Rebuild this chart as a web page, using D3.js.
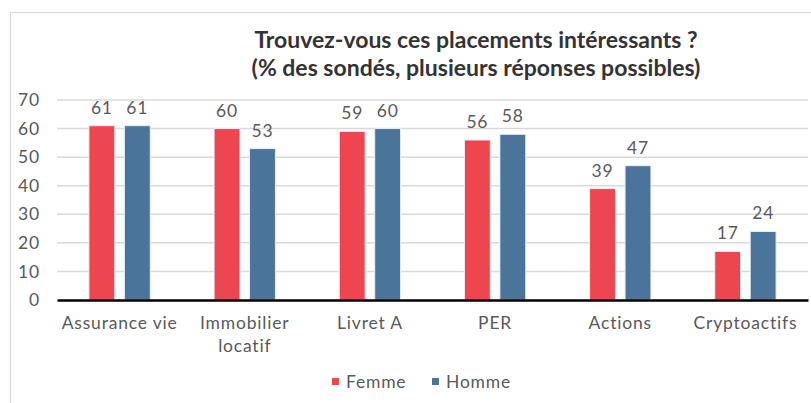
<!DOCTYPE html>
<html>
<head>
<meta charset="utf-8">
<script src="https://cdn.jsdelivr.net/npm/d3@7"></script>
<style>
  body { margin: 0; background: #fff; }
  text { font-family: Lato, "Liberation Sans", sans-serif; }
  .lbl { font-size: 17.5px; letter-spacing: 0.8px; fill: #595959; }
</style>
</head>
<body>
<script>
const categories = ['Assurance vie', 'Immobilier\nlocatif', 'Livret A', 'PER', 'Actions', 'Cryptoactifs'];
const femme = [61, 60, 59, 56, 39, 17];
const homme = [61, 53, 60, 58, 47, 24];
const series = ['Femme', 'Homme'];
const yTicks = [0, 10, 20, 30, 40, 50, 60, 70];
const colors = { Femme: '#ee4650', Homme: '#4a7499' };

const width = 811;
const height = 403;
const margin = { top: 100, right: 3, bottom: 103, left: 57 };

const svg = d3.select('body').append('svg').attr('width', width).attr('height', height);

// light frame
svg.append('path')
  .attr('d', `M10.5,${height} V12.5 H${width}`)
  .attr('fill', 'none').attr('stroke', '#d9d9d9').attr('stroke-width', 1);

const x = d3.scaleBand().domain(categories).range([margin.left, width - margin.right]);
const y = d3.scaleLinear().domain([0, 70]).range([height - margin.bottom, margin.top]);
const x1 = d3.scaleBand().domain(series).range([0, x.bandwidth()]).paddingInner(0.27).paddingOuter(0.9);

// title
const title = svg.append('text').attr('text-anchor', 'middle').attr('fill', '#333')
  .style('font-weight', 'bold').style('font-size', '23px');
title.append('tspan').attr('x', 476).attr('y', 48).text('Trouvez-vous ces placements intéressants ?');
title.append('tspan').attr('x', 476).attr('y', 76).text('(% des sondés, plusieurs réponses possibles)');

// grid
svg.append('g').selectAll('line').data(yTicks.filter(d => d > 0)).join('line')
  .attr('x1', margin.left).attr('x2', width - margin.right)
  .attr('y1', d => y(d)).attr('y2', d => y(d))
  .attr('stroke', '#d9d9d9').attr('stroke-width', 1.5);

// y axis labels
const yAxis = svg.append('g').attr('transform', `translate(${margin.left},0)`)
  .call(d3.axisLeft(y).tickValues(yTicks).tickSize(0).tickPadding(17));
yAxis.select('.domain').remove();
yAxis.selectAll('text').attr('class', 'lbl').attr('fill', null);

// bars
const rows = categories.map((c, i) => ({ cat: c, Femme: femme[i], Homme: homme[i] }));
const groups = svg.append('g').selectAll('g').data(rows).join('g')
  .attr('transform', d => `translate(${x(d.cat)},0)`);
const items = groups.selectAll('g').data(d => series.map(s => ({ s, v: d[s] }))).join('g');
items.append('rect')
  .attr('x', d => x1(d.s)).attr('width', x1.bandwidth())
  .attr('y', d => y(d.v)).attr('height', d => y(0) - y(d.v))
  .attr('fill', d => colors[d.s]).attr('stroke', '#e8eef4').attr('stroke-width', 1);
items.append('text').attr('class', 'lbl')
  .attr('x', d => x1(d.s) + x1.bandwidth() / 2).attr('y', d => y(d.v) - 12)
  .attr('text-anchor', 'middle')
  .text(d => d.v);

// x axis
const xAxis = svg.append('g').attr('transform', `translate(0,${y(0)})`)
  .call(d3.axisBottom(x).tickSize(0).tickFormat(''));
xAxis.select('.domain').attr('stroke', '#000').attr('stroke-width', 2.5);
xAxis.selectAll('.tick').each(function (d) {
  const t = d3.select(this).append('text').attr('class', 'lbl').attr('text-anchor', 'middle');
  d.split('\n').forEach((line, i) => t.append('tspan').attr('x', 0).attr('y', 29 + i * 23).text(line));
});

// legend
const legend = svg.append('g').attr('transform', 'translate(332,388)');
const li = legend.selectAll('g').data(series).join('g')
  .attr('transform', (d, i) => `translate(${i * 100},0)`);
li.append('rect').attr('y', -10).attr('width', 7).attr('height', 7).attr('fill', d => colors[d]);
li.append('text').attr('class', 'lbl').attr('x', 14).text(d => d);
</script>
</body>
</html>
